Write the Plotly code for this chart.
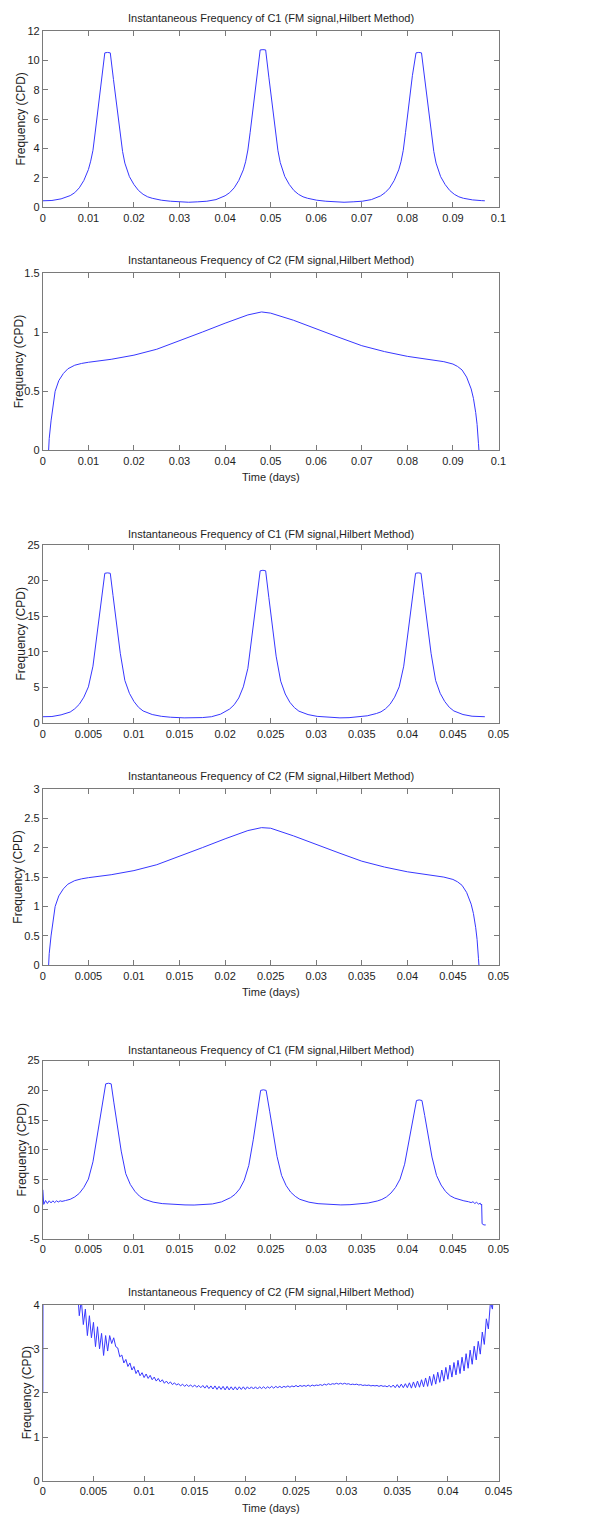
import plotly.graph_objects as go

# ---------------- data ----------------
TITLE_C1 = "Instantaneous Frequency of C1 (FM signal,Hilbert Method)"
TITLE_C2 = "Instantaneous Frequency of C2 (FM signal,Hilbert Method)"
YLAB = "Frequency (CPD)"
XLAB = "Time (days)"

# Panel 1: C1, long record
t1 = [0.0000, 0.0020, 0.0040, 0.0060, 0.0070, 0.0080, 0.0090, 0.0100, 0.0105, 0.0110,
      0.0115, 0.0120, 0.0125, 0.0130, 0.0136, 0.0142, 0.0148, 0.0155, 0.0160, 0.0165,
      0.0170, 0.0175, 0.0180, 0.0190, 0.0200, 0.0210, 0.0220, 0.0230, 0.0240, 0.0260,
      0.0280, 0.0300, 0.0320,
      0.0340, 0.0360, 0.0380, 0.0400, 0.0410, 0.0420, 0.0430, 0.0440, 0.0445, 0.0450,
      0.0455, 0.0460, 0.0465, 0.0470, 0.0477, 0.0483, 0.0489, 0.0496, 0.0501, 0.0506,
      0.0511, 0.0516, 0.0521, 0.0531, 0.0541, 0.0551, 0.0561, 0.0571, 0.0581, 0.0601,
      0.0621, 0.0641, 0.0661,
      0.0681, 0.0701, 0.0721, 0.0741, 0.0751, 0.0761, 0.0771, 0.0781, 0.0786, 0.0791,
      0.0796, 0.0801, 0.0806, 0.0811, 0.0819, 0.0825, 0.0831, 0.0838, 0.0843, 0.0848,
      0.0853, 0.0858, 0.0863, 0.0873, 0.0883, 0.0893, 0.0903, 0.0913, 0.0923, 0.0943,
      0.0963, 0.0970]
f1 = [0.45, 0.47, 0.58, 0.80, 1.00, 1.33, 1.83, 2.57, 3.14, 3.88,
      5.12, 6.38, 7.67, 8.95, 10.50, 10.53, 10.50, 8.70, 7.41, 6.12,
      4.88, 3.80, 3.01, 2.09, 1.55, 1.15, 0.89, 0.72, 0.62, 0.49,
      0.42, 0.37, 0.35,
      0.38, 0.42, 0.53, 0.79, 1.00, 1.33, 1.83, 2.55, 3.10, 3.90,
      5.10, 6.40, 7.70, 9.00, 10.70, 10.72, 10.70, 8.85, 7.55, 6.20,
      4.95, 3.85, 3.05, 2.10, 1.55, 1.15, 0.89, 0.72, 0.62, 0.49,
      0.42, 0.37, 0.35,
      0.38, 0.42, 0.53, 0.78, 1.00, 1.32, 1.82, 2.55, 3.10, 3.88,
      5.10, 6.36, 7.65, 8.95, 10.50, 10.53, 10.50, 8.70, 7.41, 6.12,
      4.88, 3.80, 3.01, 2.09, 1.55, 1.15, 0.89, 0.72, 0.62, 0.51,
      0.46, 0.45]

# Panel 2: C2, long record
t2 = [0.0012, 0.0014, 0.0018, 0.0022, 0.0027, 0.0035, 0.0045, 0.0055, 0.0070, 0.0085,
      0.0100, 0.0150, 0.0200, 0.0250, 0.0300, 0.0350, 0.0400, 0.0450, 0.0480, 0.0500,
      0.0550, 0.0600, 0.0650, 0.0700, 0.0750, 0.0800, 0.0850, 0.0880, 0.0900, 0.0910,
      0.0920, 0.0930, 0.0940, 0.0945, 0.0950, 0.0953, 0.0956, 0.0958]
f2 = [-0.05, 0.10, 0.25, 0.38, 0.50, 0.59, 0.65, 0.69, 0.72, 0.735,
      0.745, 0.77, 0.805, 0.855, 0.925, 1.00, 1.075, 1.145, 1.17, 1.16,
      1.10, 1.025, 0.955, 0.885, 0.835, 0.795, 0.77, 0.75, 0.73, 0.71,
      0.68, 0.62, 0.52, 0.44, 0.32, 0.22, 0.06, -0.05]

# Panel 3: C1, short record
t3 = [0.0000, 0.0010, 0.0020, 0.0030, 0.0035, 0.0040, 0.0045, 0.0050, 0.0055, 0.0060,
      0.0065, 0.0068, 0.0071, 0.0074, 0.0077, 0.0080, 0.0085, 0.0090, 0.0095, 0.0100,
      0.0105, 0.0110, 0.0120, 0.0130, 0.0140, 0.0155, 0.0165,
      0.0175, 0.0185, 0.0195, 0.0205, 0.0210, 0.0215, 0.0220, 0.0225, 0.0230, 0.0235,
      0.02385, 0.02415, 0.02445, 0.0248, 0.0251, 0.0256, 0.0261, 0.0266, 0.0271, 0.0276,
      0.0281, 0.0291, 0.0301, 0.0311, 0.0326,
      0.0336, 0.0346, 0.0356, 0.0366, 0.0371, 0.0376, 0.0381, 0.0386, 0.0391, 0.0396,
      0.0401, 0.0406, 0.0409, 0.0412, 0.0415, 0.0418, 0.0421, 0.0426, 0.0431, 0.0436,
      0.0441, 0.0446, 0.0451, 0.0461, 0.0471, 0.0485]
f3 = [0.92, 0.95, 1.18, 1.58, 2.03, 2.66, 3.66, 5.10, 8.00, 12.76,
      17.90, 21.00, 21.06, 21.00, 17.90, 14.80, 9.80, 6.00, 4.20, 3.05,
      2.24, 1.73, 1.23, 0.98, 0.85, 0.76, 0.74,
      0.80, 0.92, 1.28, 2.00, 2.60, 3.55, 5.10, 7.70, 12.50, 17.60,
      21.35, 21.42, 21.35, 17.60, 14.40, 9.40, 5.90, 4.10, 2.95, 2.20,
      1.70, 1.22, 0.97, 0.85, 0.76,
      0.79, 0.88, 1.05, 1.37, 1.60, 2.03, 2.66, 3.66, 5.10, 8.00,
      12.76, 17.90, 21.00, 21.06, 21.00, 17.90, 14.80, 9.80, 6.00, 4.20,
      3.05, 2.24, 1.73, 1.23, 0.99, 0.92]

# Panel 4: C2, short record
t4 = [0.0006, 0.0007, 0.0009, 0.0011, 0.00135, 0.00175, 0.00225, 0.00275, 0.0035, 0.00425,
      0.0050, 0.0075, 0.0100, 0.0125, 0.0150, 0.0175, 0.0200, 0.0225, 0.0240, 0.0250,
      0.0275, 0.0300, 0.0325, 0.0350, 0.0375, 0.0400, 0.0425, 0.0440, 0.0450, 0.0455,
      0.0460, 0.0465, 0.0470, 0.04725, 0.0475, 0.04765, 0.0478, 0.0479]
f4 = [-0.10, 0.20, 0.50, 0.76, 1.00, 1.18, 1.30, 1.38, 1.44, 1.47,
      1.49, 1.54, 1.61, 1.71, 1.85, 2.00, 2.15, 2.29, 2.34, 2.33,
      2.20, 2.05, 1.91, 1.77, 1.67, 1.59, 1.54, 1.50, 1.46, 1.42,
      1.36, 1.24, 1.04, 0.88, 0.64, 0.44, 0.12, -0.10]

# Panel 5: C1, short record with end effects
t5 = [0.0000, 0.0001, 0.0003, 0.0005, 0.0007, 0.0009, 0.0011, 0.0013, 0.0015, 0.0017,
      0.0019, 0.0021, 0.0025, 0.0030, 0.0035, 0.0040, 0.0045, 0.0050, 0.0055, 0.0060,
      0.0065, 0.0069, 0.0072, 0.0075, 0.0078, 0.0081, 0.0086, 0.0091, 0.0096, 0.0101,
      0.0106, 0.0111, 0.0121, 0.0131, 0.0141, 0.0156, 0.0166,
      0.0176, 0.0186, 0.0196, 0.0206, 0.0211, 0.0216, 0.0221, 0.0226, 0.0231, 0.0236,
      0.0239, 0.0242, 0.0245, 0.0249, 0.0252, 0.0257, 0.0262, 0.0267, 0.0272, 0.0277,
      0.0282, 0.0292, 0.0302, 0.0312, 0.0327,
      0.0337, 0.0347, 0.0357, 0.0367, 0.0372, 0.0377, 0.0382, 0.0387, 0.0392, 0.0397,
      0.0402, 0.0407, 0.0410, 0.0413, 0.0416, 0.0419, 0.0422, 0.0427, 0.0432, 0.0437,
      0.0442, 0.0447, 0.0452, 0.0457, 0.0462, 0.0467, 0.0470, 0.0472, 0.0474, 0.0476,
      0.0478, 0.0480, 0.0481, 0.04815, 0.0482, 0.0484, 0.0486]
f5 = [3.30, 0.85, 1.50, 1.00, 1.45, 1.10, 1.45, 1.15, 1.45, 1.25,
      1.45, 1.35, 1.50, 1.70, 2.10, 2.70, 3.70, 5.10, 8.00, 12.80,
      17.50, 21.10, 21.20, 21.10, 17.90, 14.80, 9.80, 6.00, 4.20, 3.05,
      2.24, 1.73, 1.23, 0.98, 0.85, 0.76, 0.74,
      0.80, 0.92, 1.27, 1.98, 2.55, 3.45, 4.90, 7.40, 11.80, 16.60,
      20.00, 20.10, 20.00, 16.40, 13.40, 8.90, 5.70, 4.00, 2.90, 2.20,
      1.70, 1.22, 0.97, 0.85, 0.76,
      0.80, 0.90, 1.08, 1.42, 1.68, 2.10, 2.75, 3.70, 5.10, 7.60,
      11.60, 15.80, 18.30, 18.40, 18.30, 15.80, 13.00, 8.80, 5.70, 4.10,
      3.00, 2.30, 1.90, 1.65, 1.45, 1.30, 1.15, 1.30, 1.00, 1.20,
      0.90, 1.05, 0.75, 0.90, -2.40, -2.60, -2.60]

# Panel 6: C2, short record with end effects (sampled every 0.0002 d from 0.0034 d)
t6_head = [0.0, 0.00005, 0.0012, 0.0024, 0.0032]
f6_head = [2.0, 9.0, 6.5, 5.2, 4.6]
t6_start, t6_step = 0.0034, 0.0002
f6_body = [4.4, 3.75, 4.1, 3.55, 3.9, 3.3, 3.75, 3.25, 3.6, 3.05,
           3.5, 3.0, 3.35, 2.85, 3.3, 2.95, 3.3, 3.12, 3.25, 3.05,
           3.02, 2.82, 2.86, 2.68, 2.76, 2.6, 2.68, 2.52, 2.6, 2.44,
           2.52, 2.39, 2.46, 2.35, 2.43, 2.33, 2.4, 2.30, 2.36, 2.27,
           2.33, 2.25, 2.3, 2.22, 2.27, 2.21, 2.25, 2.19, 2.23, 2.18,
           2.21, 2.16, 2.2, 2.15, 2.19, 2.15, 2.18, 2.14, 2.18, 2.13,
           2.17, 2.12, 2.17, 2.11, 2.17, 2.1, 2.16, 2.09, 2.16, 2.08,
           2.15, 2.08, 2.15, 2.07, 2.15, 2.07, 2.14, 2.07, 2.14, 2.07,
           2.14, 2.08, 2.14, 2.08, 2.14, 2.09, 2.14, 2.09, 2.14, 2.09,
           2.14, 2.1, 2.14, 2.1, 2.14, 2.11, 2.15, 2.11, 2.15, 2.12,
           2.15, 2.12, 2.15, 2.13, 2.16, 2.13, 2.16, 2.14, 2.17, 2.14,
           2.17, 2.15, 2.17, 2.15, 2.18, 2.15, 2.18, 2.16, 2.18, 2.17,
           2.19, 2.17, 2.2, 2.18, 2.21, 2.19, 2.21, 2.2, 2.22, 2.2,
           2.22, 2.2, 2.22, 2.2, 2.21, 2.19, 2.2, 2.19, 2.2, 2.18,
           2.19, 2.17, 2.18, 2.17, 2.18, 2.16, 2.17, 2.16, 2.17, 2.15,
           2.17, 2.15, 2.16, 2.14, 2.17, 2.13, 2.18, 2.12, 2.19, 2.12,
           2.2, 2.12, 2.21, 2.12, 2.23, 2.11, 2.25, 2.12, 2.27, 2.13,
           2.3, 2.14, 2.34, 2.15, 2.38, 2.17, 2.42, 2.2, 2.47, 2.24,
           2.52, 2.27, 2.58, 2.31, 2.63, 2.36, 2.69, 2.41, 2.74, 2.44,
           2.81, 2.5, 2.89, 2.56, 2.97, 2.65, 3.06, 2.75, 3.17, 2.88,
           3.38, 3.1, 3.68, 3.45, 4.05, 3.9, 4.6, 4.5]
t6 = t6_head + [round(t6_start + t6_step * i, 5) for i in range(len(f6_body))]
f6 = f6_head + f6_body

# tick values / labels
xt_10 = [0, 0.01, 0.02, 0.03, 0.04, 0.05, 0.06, 0.07, 0.08, 0.09, 0.1]
xl_10 = ["0", "0.01", "0.02", "0.03", "0.04", "0.05", "0.06", "0.07", "0.08", "0.09", "0.1"]
xt_05 = [0, 0.005, 0.01, 0.015, 0.02, 0.025, 0.03, 0.035, 0.04, 0.045, 0.05]
xl_05 = ["0", "0.005", "0.01", "0.015", "0.02", "0.025", "0.03", "0.035", "0.04", "0.045", "0.05"]
xt_045 = xt_05[:10]
xl_045 = xl_05[:10]
yt_1 = [0, 2, 4, 6, 8, 10, 12];       yl_1 = ["0", "2", "4", "6", "8", "10", "12"]
yt_2 = [0, 0.5, 1, 1.5];              yl_2 = ["0", "0.5", "1", "1.5"]
yt_3 = [0, 5, 10, 15, 20, 25];        yl_3 = ["0", "5", "10", "15", "20", "25"]
yt_4 = [0, 0.5, 1, 1.5, 2, 2.5, 3];   yl_4 = ["0", "0.5", "1", "1.5", "2", "2.5", "3"]
yt_5 = [-5, 0, 5, 10, 15, 20, 25];    yl_5 = ["-5", "0", "5", "10", "15", "20", "25"]
yt_6 = [0, 1, 2, 3, 4];               yl_6 = ["0", "1", "2", "3", "4"]

# ---------------- figure ----------------
W, H = 598, 1523
LEFT, RIGHT = 41, 510
LINE_COLOR = "rgb(55,55,255)"
AX_COLOR = "#7a7a7a"
TXT_COLOR = "#1e1e1e"
FONT = "Arial, Liberation Sans, sans-serif"

panels = [
    dict(t=t1, f=f1, xr=[0, 0.1], xt=xt_10, xl=xl_10, yr=[0, 12], yt=yt_1, yl=yl_1,
         top=25, bot=203, title=TITLE_C1, ttl=12, xlab=False, ylx=19),
    dict(t=t2, f=f2, xr=[0, 0.1], xt=xt_10, xl=xl_10, yr=[0, 1.5], yt=yt_2, yl=yl_2,
         top=269, bot=448, title=TITLE_C2, ttl=256, xlab=True, ylx=16),
    dict(t=t3, f=f3, xr=[0, 0.05], xt=xt_05, xl=xl_05, yr=[0, 25], yt=yt_3, yl=yl_3,
         top=543, bot=723, title=TITLE_C1, ttl=532, xlab=False, ylx=19),
    dict(t=t4, f=f4, xr=[0, 0.05], xt=xt_05, xl=xl_05, yr=[0, 3], yt=yt_4, yl=yl_4,
         top=789, bot=967, title=TITLE_C2, ttl=776, xlab=True, ylx=16),
    dict(t=t5, f=f5, xr=[0, 0.05], xt=xt_05, xl=xl_05, yr=[-5, 25], yt=yt_5, yl=yl_5,
         top=1063, bot=1243, title=TITLE_C1, ttl=1052, xlab=False, ylx=19),
    dict(t=t6, f=f6, xr=[0, 0.045], xt=xt_045, xl=xl_045, yr=[0, 4], yt=yt_6, yl=yl_6,
         top=1309, bot=1487, title=TITLE_C2, ttl=1296, xlab=True, ylx=25),
]

fig = go.Figure()
annotations = []
layout_axes = {}
for i, p in enumerate(panels, start=1):
    sfx = "" if i == 1 else str(i)
    fig.add_trace(go.Scatter(x=p["t"], y=p["f"], mode="lines",
                             line=dict(color=LINE_COLOR, width=1),
                             xaxis="x" + sfx, yaxis="y" + sfx,
                             showlegend=False, hoverinfo="skip"))
    common = dict(showline=True, linecolor=AX_COLOR, linewidth=1, mirror="ticks",
                  ticks="inside", ticklen=5, tickcolor=AX_COLOR, tickwidth=1,
                  showgrid=False, zeroline=False,
                  tickfont=dict(family=FONT, size=11, color=TXT_COLOR))
    layout_axes["xaxis" + sfx] = dict(common, domain=[LEFT / W, RIGHT / W], range=p["xr"],
                                      tickmode="array", tickvals=p["xt"], ticktext=p["xl"],
                                      anchor="y" + sfx)
    layout_axes["yaxis" + sfx] = dict(common, domain=[1 - p["bot"] / H, 1 - p["top"] / H],
                                      range=p["yr"], tickmode="array", tickvals=p["yt"],
                                      ticktext=p["yl"], anchor="x" + sfx)
    cx = (LEFT + RIGHT) / 2 / W
    annotations.append(dict(text=p["title"], x=cx, y=1 - p["ttl"] / H, xref="paper", yref="paper",
                            showarrow=False, xanchor="center", yanchor="middle",
                            font=dict(family=FONT, size=11, color=TXT_COLOR)))
    annotations.append(dict(text=YLAB, x=p["ylx"] / W, y=1 - (p["top"] + p["bot"]) / 2 / H,
                            xref="paper", yref="paper", showarrow=False, textangle=-90,
                            xanchor="center", yanchor="middle",
                            font=dict(family=FONT, size=12, color=TXT_COLOR)))
    if p["xlab"]:
        annotations.append(dict(text=XLAB, x=cx, y=1 - (p["bot"] + 27) / H,
                                xref="paper", yref="paper", showarrow=False,
                                xanchor="center", yanchor="middle",
                                font=dict(family=FONT, size=11, color=TXT_COLOR)))

fig.update_layout(width=W, height=H, margin=dict(l=0, r=0, t=0, b=0),
                  paper_bgcolor="white", plot_bgcolor="white",
                  annotations=annotations, **layout_axes)

fig.write_html("out.html")
